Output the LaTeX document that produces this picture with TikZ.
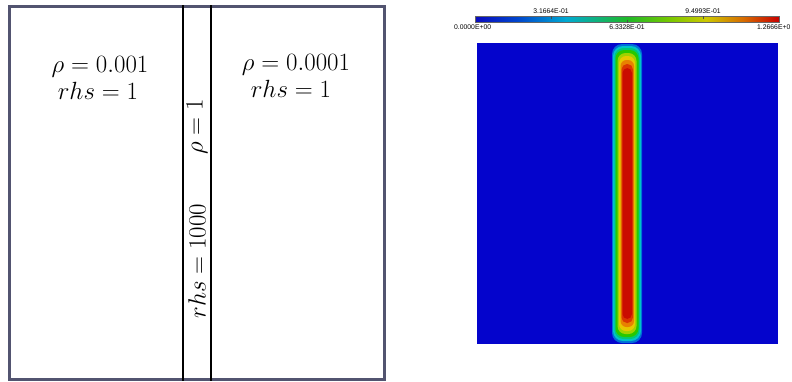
\documentclass[tikz,border=0pt]{standalone}
\usepackage{fontspec}
\newfontfamily\barfont{Liberation Sans}
\definecolor{frame}{RGB}{82,84,112}
\definecolor{fieldblue}{RGB}{4,4,204}
\definecolor{j0}{RGB}{10,10,190}
\definecolor{j1}{RGB}{0,70,205}
\definecolor{j2}{RGB}{0,170,210}
\definecolor{j3}{RGB}{30,185,40}
\definecolor{j4}{RGB}{120,200,0}
\definecolor{j5}{RGB}{205,200,0}
\definecolor{j6}{RGB}{215,110,0}
\definecolor{j7}{RGB}{200,0,0}
\definecolor{s0}{RGB}{0,110,215}
\definecolor{s1}{RGB}{0,195,200}
\definecolor{s2}{RGB}{0,200,120}
\definecolor{s3}{RGB}{40,200,0}
\definecolor{s4}{RGB}{160,210,0}
\definecolor{s5}{RGB}{230,200,0}
\definecolor{s6}{RGB}{232,130,0}
\definecolor{s7}{RGB}{218,55,0}
\definecolor{s8}{RGB}{202,12,0}
\pgfdeclarehorizontalshading{jetbar}{100bp}{color(0bp)=(j0); color(25bp)=(j0); color(32bp)=(j1); color(40bp)=(j2); color(50bp)=(j3); color(57bp)=(j4); color(63bp)=(j5); color(69bp)=(j6); color(75bp)=(j7); color(100bp)=(j7)}
\tikzset{
  lbl/.style={font=\fontsize{25}{30}\selectfont, inner sep=0pt, anchor=base},
  barlbl/.style={font=\barfont\fontsize{6.8}{7}\selectfont, inner sep=0pt},
  wall/.style={line width=2.2pt, black},
  tickmark/.style={line width=0.7pt, black!70}
}
\begin{document}
\begin{tikzpicture}[x=1pt,y=-1pt]
\useasboundingbox (0,0) rectangle (792,381);
% left diagram
\draw[frame, line width=2.6pt] (9.3,6.3) rectangle (384.7,379.7);
\draw[wall] (183,5) -- (183,381);
\draw[wall] (211,5) -- (211,381);
\node[lbl] (rl) at (100,72) {$\rho = 0.001$};
\node[lbl] (hl) at (98,99) {$rhs = 1$};
\node[lbl] (rr) at (296,70) {$\rho = 0.0001$};
\node[lbl] (hr) at (291,97) {$rhs = 1$};
\node[lbl, rotate=90, anchor=center] (rm) at (197,127) {$\rho = 1$};
\node[lbl, rotate=90, anchor=center] (hm) at (197,261) {$rhs = 1000$};
% colour bar
\fill[shading=jetbar] (475,16) rectangle (779,22.5);
\draw[black!60, line width=0.4pt] (475,16) rectangle (779,22.5);
\draw[tickmark] (551,16) -- (551,19);
\draw[tickmark] (703,16) -- (703,19);
\draw[tickmark] (627,19.5) -- (627,22.5);
\node[barlbl] (t1) at (551,11) {3.1664E-01};
\node[barlbl] (t2) at (703,11) {9.4993E-01};
\node[barlbl, anchor=west] (b0) at (454,27.5) {0.0000E+00};
\node[barlbl] (b1) at (627,27.5) {6.3328E-01};
\node[barlbl, anchor=west] (b2) at (757,27.5) {1.2666E+0};
% field
\fill[fieldblue] (477,43) rectangle (778,343.5);
\fill[s0, rounded corners=10pt] (612,44) rectangle (642,343);
\fill[s1, rounded corners=10pt] (613,46) rectangle (641,341);
\fill[s2, rounded corners=9pt] (614.5,48) rectangle (639.5,339);
\fill[s3, rounded corners=8.5pt] (615.5,50) rectangle (638.5,337);
\fill[s4, rounded corners=8pt] (617.5,53) rectangle (636.5,334);
\fill[s5, rounded corners=7pt] (619,56) rectangle (635,331);
\fill[s6, rounded corners=6pt] (620.5,60) rectangle (634,327);
\fill[s7, rounded corners=5.5pt] (621.5,64) rectangle (633,323);
\fill[s8, rounded corners=5pt] (622.5,68) rectangle (632,319);
\end{tikzpicture}
\end{document}
